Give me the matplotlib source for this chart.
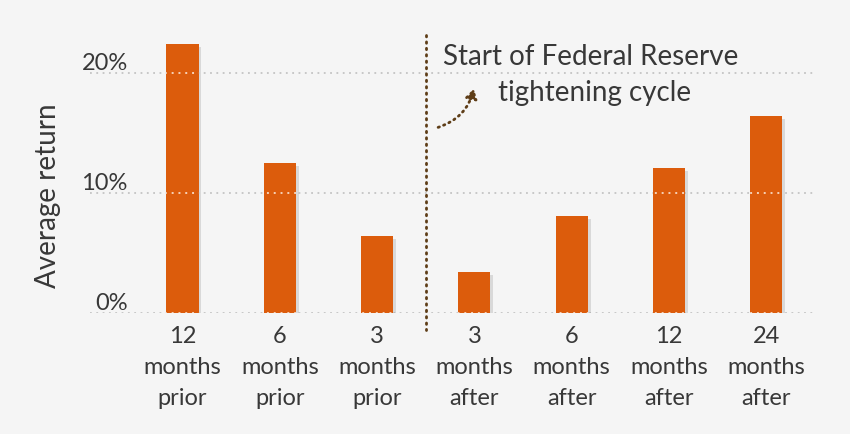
import matplotlib
matplotlib.use("Agg")
import matplotlib.pyplot as plt
import matplotlib.patheffects as pe

categories = ["12\nmonths\nprior", "6\nmonths\nprior", "3\nmonths\nprior",
              "3\nmonths\nafter", "6\nmonths\nafter", "12\nmonths\nafter", "24\nmonths\nafter"]
avg_return = [22.4, 12.5, 6.4, 3.4, 8.1, 12.1, 16.4]
ytick_vals = [0, 10, 20]
ytick_labels = ["0%", "10%", "20%"]

FONT = ["Lato", "DejaVu Sans"]
TXT = "#383838"
BG = "#f5f5f5"
ORANGE = "#dc5c0c"
BROWN = "#5e3d17"
W = "normal"

fig = plt.figure(figsize=(8.5, 4.34), dpi=100, facecolor=BG)
ax = fig.add_axes([0.1059, 0.2788, 0.8529, 0.6636])
ax.set_facecolor(BG)

x = list(range(len(categories)))
bars = ax.bar(x, avg_return, width=0.33, color=ORANGE, zorder=2,
              path_effects=[pe.SimplePatchShadow(offset=(2, -2), shadow_rgbFace="#999999", alpha=0.3), pe.Normal()])

ax.set_xlim(-0.95, 6.5)
ax.set_ylim(0, 24)

# gridlines
for yv in ytick_vals:
    ax.axhline(yv, color="#c4c4c4", lw=1.3, ls=(0, (1, 2.5)), zorder=1)
    for b in bars:
        ln = ax.axhline(yv, color="#f6d2b8", lw=1.4, ls=(0, (1, 2.5)), zorder=3)
        ln.set_clip_path(b)

for s in ax.spines.values():
    s.set_visible(False)
ax.set_yticks([])
ax.set_xticks(x)
ax.set_xticklabels(categories, fontfamily=FONT, fontweight=W, fontsize=17,
                   color=TXT, linespacing=1.6)
ax.tick_params(axis="x", length=0, pad=9)

for yv, lab in zip(ytick_vals, ytick_labels):
    ax.text(0.052, yv - 0.1, lab, transform=ax.get_yaxis_transform(),
            ha="right", va="bottom", fontfamily=FONT, fontweight=W, fontsize=17, color=TXT)

fig.text(0.056, 0.55, "Average return", rotation=90, ha="center", va="center",
         fontfamily=FONT, fontweight=W, fontsize=20, color=TXT)

# divider
ax.plot([2.5, 2.5], [23.2, -1.4], color=BROWN, lw=2, ls=(0, (0.5, 1.8)),
        dash_capstyle="round", clip_on=False, zorder=4)

ax.text(2.68, 21.3, "Start of Federal Reserve", ha="left", va="center",
        fontfamily=FONT, fontweight=W, fontsize=20, color=TXT)
ax.text(3.24, 18.3, "tightening cycle", ha="left", va="center",
        fontfamily=FONT, fontweight=W, fontsize=20, color=TXT)

ax.annotate("", xy=(3.0, 18.9), xytext=(2.6, 15.4),
            arrowprops=dict(arrowstyle="-|>,head_length=0.55,head_width=0.35", color=BROWN,
                            lw=2, ls=(0, (0.5, 1.6)), connectionstyle="arc3,rad=0.3"))

fig.savefig("out.png", dpi=100, facecolor=BG)
